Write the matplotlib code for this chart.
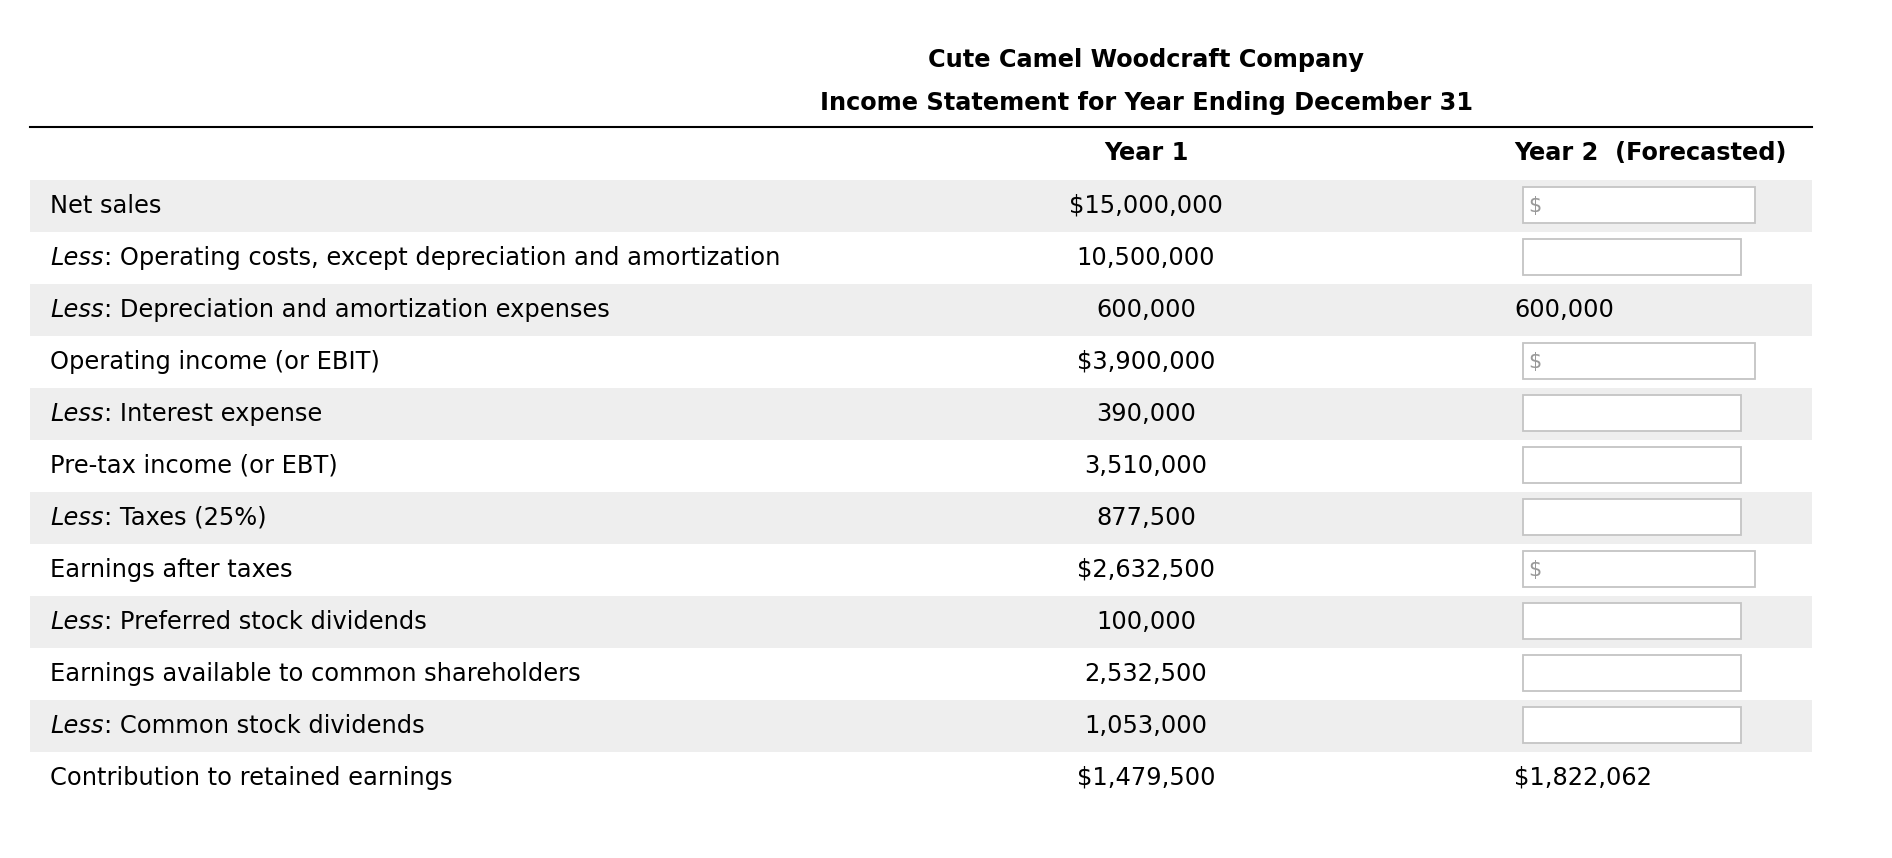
import matplotlib.pyplot as plt
from matplotlib.patches import Rectangle

title = "Cute Camel Woodcraft Company"
subtitle = "Income Statement for Year Ending December 31"
col_heads = ["Year 1", "Year 2  (Forecasted)"]

prefixes = ["", "Less", "Less", "", "Less", "", "Less", "", "Less", "", "Less", ""]
labels = [
    "Net sales",
    ": Operating costs, except depreciation and amortization",
    ": Depreciation and amortization expenses",
    "Operating income (or EBIT)",
    ": Interest expense",
    "Pre-tax income (or EBT)",
    ": Taxes (25%)",
    "Earnings after taxes",
    ": Preferred stock dividends",
    "Earnings available to common shareholders",
    ": Common stock dividends",
    "Contribution to retained earnings",
]
year1 = ["$15,000,000", "10,500,000", "600,000", "$3,900,000", "390,000",
         "3,510,000", "877,500", "$2,632,500", "100,000", "2,532,500",
         "1,053,000", "$1,479,500"]
# None -> empty input box; "$box" -> input box with dollar sign
year2 = ["$box", None, "600,000", "$box", None, None, None, "$box", None,
         None, None, "$1,822,062"]

W, H = 1892, 858
fig = plt.figure(figsize=(W / 100, H / 100), dpi=100)
ax = fig.add_axes([0, 0, 1, 1])
ax.set_xlim(0, W)
ax.set_ylim(H, 0)
ax.axis("off")

fs = 17.4
row_top = 180
row_h = 52
left, right = 30, 1812
x_lab = 50
x_y1 = 1146
x_y2 = 1514

ax.text(x_y1, 60, title, ha="center", va="center", fontsize=17.3, fontweight="bold")
ax.text(x_y1, 103, subtitle, ha="center", va="center", fontsize=17.3, fontweight="bold")
ax.plot([left, right], [127, 127], color="black", lw=1.5)
ax.text(x_y1, 153, col_heads[0], ha="center", va="center", fontsize=17.3, fontweight="bold")
ax.text(x_y2, 153, col_heads[1], ha="left", va="center", fontsize=17.3, fontweight="bold")

for i in range(len(labels)):
    y0 = row_top + i * row_h
    yc = y0 + row_h / 2
    if i % 2 == 0:
        ax.add_patch(Rectangle((left, y0), right - left, row_h, facecolor="#eeeeee",
                               edgecolor="none", zorder=0))
    if prefixes[i]:
        t = ax.text(x_lab, yc, prefixes[i], ha="left", va="center", fontsize=fs,
                    style="italic")
        ax.annotate(labels[i], xy=(1, 0), xycoords=t, ha="left", va="bottom",
                    fontsize=fs)
    else:
        ax.text(x_lab, yc, labels[i], ha="left", va="center", fontsize=fs)
    ax.text(x_y1, yc, year1[i], ha="center", va="center", fontsize=fs)

    v = year2[i]
    if v is None or v == "$box":
        bw = 232 if v == "$box" else 218
        ax.add_patch(Rectangle((1523, y0 + 7), bw, 36, facecolor="white",
                               edgecolor="#c4c4c4", lw=1.3, zorder=2))
        if v == "$box":
            ax.text(1528, yc, "$", ha="left", va="center", fontsize=15,
                    color="#999999", zorder=3)
    else:
        ax.text(x_y2, yc, v, ha="left", va="center", fontsize=fs)

fig.savefig("out.png", dpi=100)
